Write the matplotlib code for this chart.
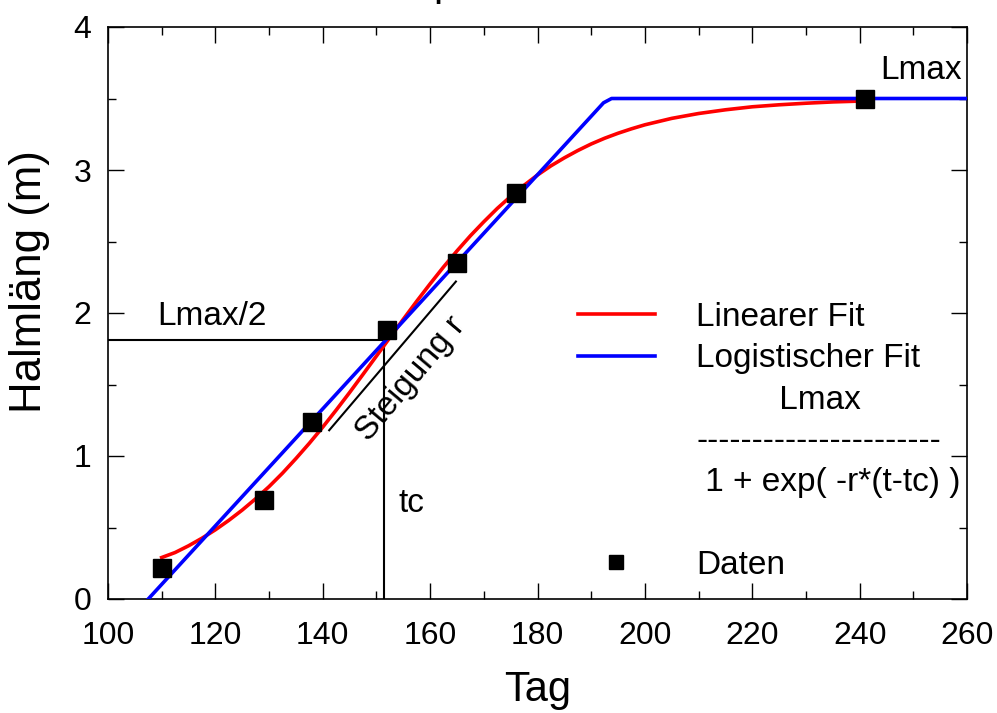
import matplotlib
matplotlib.use("Agg")
import matplotlib.pyplot as plt
from matplotlib.lines import Line2D
from matplotlib.ticker import MultipleLocator

plt.rcParams['font.family'] = ['Liberation Sans', 'DejaVu Sans']

# Data points
tag = [110, 129, 138, 152, 165, 176, 241]
halm = [0.22, 0.69, 1.24, 1.88, 2.35, 2.84, 3.50]

# Red curve
red_x = [110, 112.5, 115, 117.5, 120, 122.5, 125, 127.5, 130, 132.5, 135, 137.5,
         140, 142.5, 145, 147.5, 150, 152.5, 155, 157.5, 160, 162.5, 165, 167.5,
         170, 172.5, 175, 177.5, 180, 182.5, 185, 187.5, 190, 192.5, 195, 197.5,
         200, 205, 210, 215, 220, 225, 230, 235, 241]
red_y = [0.29, 0.325, 0.372, 0.425, 0.484, 0.550, 0.622, 0.701, 0.786, 0.880,
         0.982, 1.089, 1.202, 1.321, 1.444, 1.571, 1.699, 1.828, 1.956, 2.082,
         2.204, 2.322, 2.434, 2.540, 2.638, 2.731, 2.815, 2.893, 2.965, 3.029,
         3.085, 3.136, 3.182, 3.222, 3.257, 3.288, 3.316, 3.361, 3.395, 3.421,
         3.442, 3.456, 3.467, 3.476, 3.483]

# Blue piecewise linear curve
blue_x = [107.5, 192.3, 193.8, 260]
blue_y = [0.0, 3.47, 3.50, 3.50]

# Annotation lines
half_x = [100, 152]
half_y = [1.81, 1.81]
tc_x = [151.5, 151.5]
tc_y = [0.0, 1.78]
slope_x = [141.2, 164.8]
slope_y = [1.18, 2.22]

xticks = [100, 120, 140, 160, 180, 200, 220, 240, 260]
yticks = [0, 1, 2, 3, 4]

fig = plt.figure(figsize=(9.97, 7.13), dpi=100)
ax = fig.add_axes([108/997, 1-599/713, (967-108)/997, (599-27)/713])

# title fragment (clipped at the top edge of the picture)
fig.text(433/997, 1 + 4.6/713, 'p', fontsize=30, ha='left', va='baseline')

ax.plot(red_x, red_y, color='#ff0000', lw=2.6, zorder=3)
ax.plot(blue_x, blue_y, color='#0000ff', lw=2.6, zorder=3)
ax.plot(tag, halm, linestyle='none', marker='s', color='black', markersize=13, zorder=4)

ax.plot(half_x, half_y, color='black', lw=1.5)
ax.plot(tc_x, tc_y, color='black', lw=1.5)
ax.plot(slope_x, slope_y, color='black', lw=1.5)

ax.text(109.1, 1.916, 'Lmax/2', fontsize=24, ha='left', va='baseline')
ax.text(154.2, 0.608, 'tc', fontsize=24, ha='left', va='baseline')
ax.text(243.8, 3.636, 'Lmax', fontsize=24, ha='left', va='baseline')
ax.text(156.4, 1.54, 'Steigung r', fontsize=24, ha='center', va='center',
        rotation=50, rotation_mode='anchor')

ax.set_xlim(100, 260)
ax.set_ylim(0, 4)
ax.set_xticks(xticks)
ax.set_yticks(yticks)
ax.xaxis.set_minor_locator(MultipleLocator(10))
ax.yaxis.set_minor_locator(MultipleLocator(0.5))
ax.tick_params(which='both', direction='in', top=True, right=True, labelsize=23, width=1)
ax.tick_params(which='major', length=11.5)
ax.tick_params(axis='x', which='major', pad=15.5)
ax.tick_params(axis='y', which='major', pad=12)
ax.tick_params(which='minor', length=5.8)
for s in ax.spines.values():
    s.set_linewidth(1.2)

ax.set_xlabel('Tag', fontsize=30, labelpad=14)
ax.set_ylabel('Halmläng (m)', fontsize=31.5)
ax.yaxis.set_label_coords(-0.068, 0.555)

handles = [Line2D([], [], color='#ff0000', lw=2.6),
           Line2D([], [], color='#0000ff', lw=2.6),
           Line2D([], [], linestyle='none'),
           Line2D([], [], linestyle='none'),
           Line2D([], [], linestyle='none'),
           Line2D([], [], linestyle='none'),
           Line2D([], [], linestyle='none', marker='s', color='black', markersize=10)]
labels = ['Linearer Fit', 'Logistischer Fit', '         Lmax',
          '----------------------', ' 1 + exp( -r*(t-tc) )', ' ', 'Daten']
ax.legend(handles, labels, loc='upper left',
          bbox_to_anchor=((578-108)/859, (599-302)/572),
          frameon=False, fontsize=24, handlelength=2.3, handletextpad=1.25,
          labelspacing=0.31, borderpad=0, borderaxespad=0)

fig.savefig('out.png', dpi=100)
